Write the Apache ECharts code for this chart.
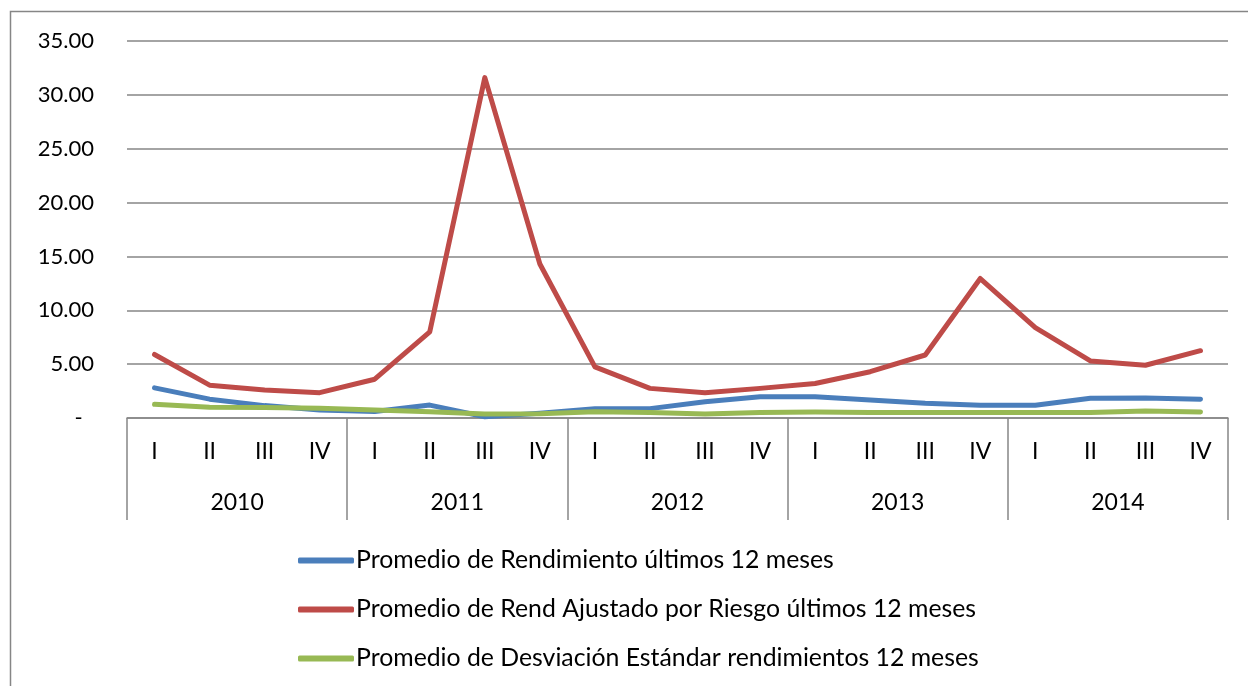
<!DOCTYPE html>
<html>
<head>
<meta charset="utf-8">
<script src="https://cdn.jsdelivr.net/npm/echarts@6/dist/echarts.min.js"></script>
<style>
html,body{margin:0;padding:0;background:#fff;}
#c{width:1248px;height:686px;}
</style>
</head>
<body>
<div id="c"></div>
<script>
const quarters = ['I','II','III','IV','I','II','III','IV','I','II','III','IV','I','II','III','IV','I','II','III','IV'];
const years = ['2010','2011','2012','2013','2014'];
const seriesNames = [
  'Promedio de Rendimiento últimos 12 meses',
  'Promedio de Rend Ajustado por Riesgo últimos 12 meses',
  'Promedio de Desviación Estándar rendimientos 12 meses'
];
const rendimiento = [2.8,1.75,1.15,0.75, 0.6,1.2,0.12,0.43, 0.85,0.87,1.5,1.98, 1.98,1.67,1.36,1.18, 1.18,1.83,1.85,1.74];
const ajustado = [5.9,3.05,2.6,2.35, 3.6,8.0,31.6,14.3, 4.75,2.75,2.35,2.75, 3.2,4.3,5.85,12.95, 8.4,5.3,4.9,6.25];
const desviacion = [1.27,0.99,0.97,0.9, 0.74,0.58,0.37,0.4, 0.58,0.5,0.37,0.5, 0.55,0.5,0.5,0.5, 0.5,0.5,0.65,0.55];
const colors = ['#4A7EBB','#BE4B48','#98B954'];

const FONT = 'Lato';
const chart = echarts.init(document.getElementById('c'));
chart.setOption({
  animation:false,
  color: colors,
  textStyle:{fontFamily:FONT},
  graphic:[{
    type:'rect', z:-1,
    shape:{x:10.5,y:11.5,width:1300,height:800},
    style:{fill:'#fff',stroke:'#868686',lineWidth:1.5}
  }],
  grid:{left:127,right:20,top:41,bottom:268},
  legend:{
    orient:'vertical', left:293, top:543,
    itemWidth:56, itemHeight:6, itemGap:24, icon:'roundRect',
    textStyle:{fontFamily:FONT,fontSize:24.8,color:'#000',padding:[0,0,0,-3]},
    data: seriesNames
  },
  xAxis:[{
    type:'category', data:quarters, position:'bottom',
    axisLine:{show:true,lineStyle:{color:'#868686',width:1.5}},
    axisTick:{show:false},
    axisLabel:{interval:0,margin:22,fontSize:23,color:'#000',fontFamily:FONT},
    splitLine:{show:false}
  },{
    type:'category', data:years, position:'bottom', offset:102,
    axisLine:{show:false},
    axisTick:{show:true,inside:true,length:102,interval:0,lineStyle:{color:'#868686',width:1.5}},
    axisLabel:{inside:true,interval:0,margin:6,fontSize:23,color:'#000',fontFamily:FONT},
    splitLine:{show:false}
  }],
  yAxis:{
    type:'value', min:0, max:35, interval:5,
    axisLine:{show:false}, axisTick:{show:false},
    axisLabel:{
      margin:33, fontSize:22, color:'#000', fontFamily:FONT,
      formatter:function(v){ return v===0 ? '-\u00a0\u00a0' : v.toFixed(2); }
    },
    splitLine:{lineStyle:{color:'#868686',width:1.5}}
  },
  series:[
    {name:seriesNames[0],type:'line',data:rendimiento,symbol:'none',lineStyle:{width:5,cap:'round',join:'round'},z:3},
    {name:seriesNames[1],type:'line',data:ajustado,symbol:'none',lineStyle:{width:5,cap:'round',join:'round'},z:4},
    {name:seriesNames[2],type:'line',data:desviacion,symbol:'none',lineStyle:{width:5,cap:'round',join:'round'},z:5}
  ]
});
</script>
</body>
</html>
